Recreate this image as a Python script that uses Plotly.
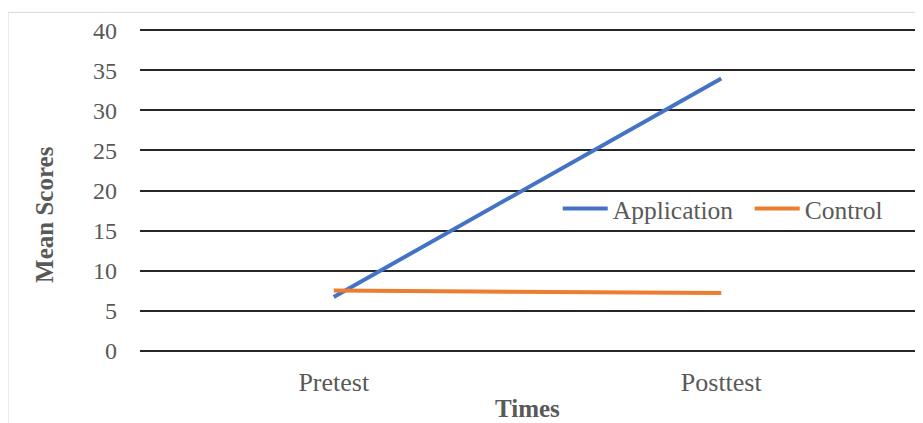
import plotly.graph_objects as go

times = ["Pretest", "Posttest"]
application = [6.7, 34.0]
control = [7.5, 7.2]
y_ticks = [0, 5, 10, 15, 20, 25, 30, 35, 40]

FONT = "Liberation Serif, Times New Roman, serif"
GRAY = "#595959"

fig = go.Figure()
fig.add_trace(go.Scatter(x=times, y=application, mode="lines", name="Application",
                         line=dict(color="#4472C4", width=4)))
fig.add_trace(go.Scatter(x=times, y=control, mode="lines", name="Control",
                         line=dict(color="#ED7D31", width=4)))

fig.update_layout(
    width=915, height=415,
    margin=dict(l=132, r=8, t=19.6, b=69.6, autoexpand=False),
    paper_bgcolor="white", plot_bgcolor="white",
    font=dict(family=FONT, size=20, color=GRAY),
    showlegend=True,
    legend=dict(orientation="h", x=0.539, y=0.443, xanchor="left", yanchor="middle",
                bgcolor="rgba(0,0,0,0)", font=dict(family=FONT, size=25.5, color=GRAY),
                itemwidth=45, entrywidth=132, entrywidthmode="pixels", tracegroupgap=0),
    shapes=[
        dict(type="line", xref="paper", yref="paper", x0=-0.1703, x1=-0.1703, y0=-0.3, y1=1.048,
             line=dict(color="#d9d9d9", width=1)),
        dict(type="line", xref="paper", yref="paper", x0=-0.1703, x1=1.02, y0=1.048, y1=1.048,
             line=dict(color="#d9d9d9", width=1)),
    ],
    annotations=[
        dict(text="<b>Mean Scores</b>", textangle=-90, xref="paper", yref="paper",
             x=-0.1226, y=0.428, xanchor="center", yanchor="middle", showarrow=False,
             font=dict(family=FONT, size=25, color=GRAY)),
        dict(text="<b>Times</b>", xref="paper", yref="paper",
             x=0.5, y=-0.172, xanchor="center", yanchor="middle", showarrow=False,
             font=dict(family=FONT, size=25, color=GRAY)),
    ],
)
fig.update_xaxes(
    type="category", range=[-0.5, 1.5], showgrid=False, zeroline=False, showline=False, ticks="",
    ticklabelstandoff=11, automargin=False, tickfont=dict(family=FONT, size=26, color=GRAY),
)
fig.update_yaxes(
    range=[-0.3, 40.3], tickvals=y_ticks, showgrid=True, gridcolor="#262626", gridwidth=2,
    zeroline=False, showline=False, ticks="", ticklabelstandoff=22, automargin=False,
    tickfont=dict(family=FONT, size=24, color=GRAY),
)

fig.write_html("out.html")
